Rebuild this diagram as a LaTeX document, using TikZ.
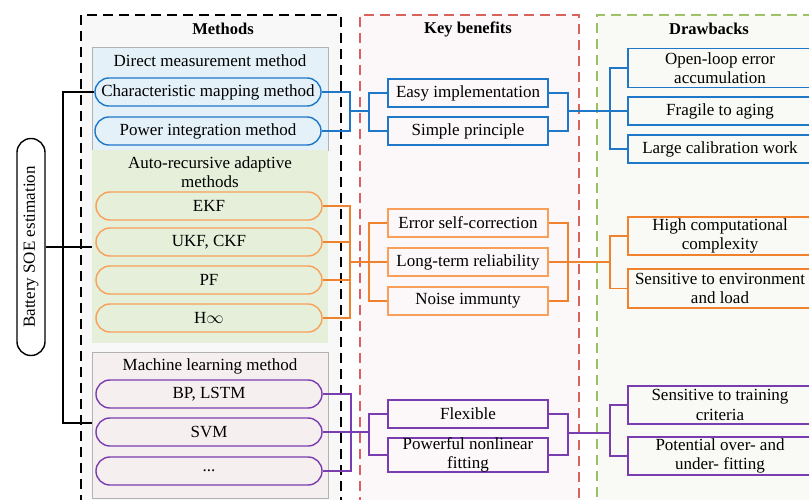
\documentclass[tikz,border=0pt]{standalone}
\usepackage{fontspec}
\setmainfont{Liberation Serif}
\definecolor{cblue}{HTML}{1F77C8}
\definecolor{corg}{HTML}{F8A05A}
\definecolor{corgd}{HTML}{F0822E}
\definecolor{cpur}{HTML}{7A3DB0}
\definecolor{cred}{HTML}{D9625C}
\definecolor{cgrn}{HTML}{9CC265}
\definecolor{fmeth}{HTML}{F8F8F8}
\definecolor{fkey}{HTML}{FCF8F9}
\definecolor{fdraw}{HTML}{F9FAF5}
\definecolor{fblue}{HTML}{E4F1F8}
\definecolor{fgreen}{HTML}{E5EFD9}
\definecolor{fpink}{HTML}{F6EFEF}
\begin{document}
\begin{tikzpicture}[x=1pt,y=-1pt,
  font=\fontsize{17}{19.5}\selectfont,
  every node/.style={inner sep=0pt},
  pill/.style={draw=#1, line width=1.4pt, rounded corners=13.9pt, minimum width=226pt, minimum height=28pt},
  kbox/.style={draw=#1, line width=1.4pt, minimum width=160pt, minimum height=28pt, align=center},
  dbox/.style={draw=#1, line width=1.4pt, minimum width=184pt, align=center},
  grp/.style={anchor=north west, minimum width=236pt},
  col/.style={anchor=north west, dash pattern=on 10pt off 6pt, line width=1.6pt},
  ttl/.style={font=\fontsize{16.5}{19}\selectfont\bfseries},
  conn/.style={line width=1.4pt}]
\useasboundingbox (0,0) rectangle (809,499);
\clip (0,0) rectangle (809,499);
\fill[white] (0,0) rectangle (809,499);
% columns
\node[col, draw=black, fill=fmeth, minimum width=260pt, minimum height=520pt] (methcol) at (80,14) {};
\node[col, draw=cred, fill=fkey, minimum width=219pt, minimum height=520pt] (keycol) at (359,14) {};
\node[col, draw=cgrn, fill=fdraw, minimum width=240pt, minimum height=520pt] (drawcol) at (596,14) {};
\node[ttl] (tmeth) at (223,29) {Methods};
\node[ttl] (tkey) at (468,29) {Key benefits};
\node[ttl] (tdraw) at (709,29) {Drawbacks};
% group boxes
\node[grp, draw=gray!60, fill=fblue, minimum height=103pt] (dmbox) at (92,47) {};
\node[grp, fill=fgreen, minimum height=193pt] (arbox) at (92,150) {};
\node[grp, draw=gray!60, fill=fpink, minimum height=146pt] (mlbox) at (92,352) {};
\node (tdm) at (210,61) {Direct measurement method};
\node[align=center] (tar) at (210,172) {Auto-recursive adaptive\\methods};
\node (tml) at (210,366) {Machine learning method};
% battery
\node[draw, line width=1.4pt, rounded corners=13.9pt, minimum width=28pt, minimum height=217pt] (bat) at (31,247) {\rotatebox{90}{Battery SOE estimation}};
% method pills
\node[pill=cblue] (cmm) at (208,92) {Characteristic mapping method};
\node[pill=cblue] (pim) at (208,131) {Power integration method};
\node[pill=corg] (ekf) at (209,206) {EKF};
\node[pill=corg] (ukf) at (209,242) {UKF, CKF};
\node[pill=corg] (pf) at (209,280) {PF};
\node[pill=corg] (hinf) at (209,318) {H$\infty$};
\node[pill=cpur] (bp) at (209,394) {BP, LSTM};
\node[pill=cpur] (svm) at (209,432) {SVM};
\node[pill=cpur] (dots) at (209,471) {...};
% key benefits
\node[kbox=cblue] (easy) at (468,93) {Easy implementation};
\node[kbox=cblue] (simple) at (468,131) {Simple principle};
\node[kbox=corg] (err) at (468,223) {Error self-correction};
\node[kbox=corg] (longt) at (468,262) {Long-term reliability};
\node[kbox=corg] (noise) at (468,301) {Noise immunty};
\node[kbox=cpur] (flex) at (468,414) {Flexible};
\node[kbox=cpur, minimum height=34pt, font=\fontsize{17}{18.5}\selectfont] (pow) at (468,455) {Powerful nonlinear\\fitting};
% drawbacks
\node[dbox=cblue, minimum height=39pt] (open) at (720,68) {Open-loop error\\accumulation};
\node[dbox=cblue, minimum height=28pt] (frag) at (720,111) {Fragile to aging};
\node[dbox=cblue, minimum height=28pt] (calib) at (720,149) {Large calibration work};
\node[dbox=corgd, minimum height=38pt] (highc) at (720,236) {High computational\\complexity};
\node[dbox=corgd, minimum height=39pt] (senv) at (720,288.5) {Sensitive to environment\\and load};
\node[dbox=cpur, minimum height=38pt] (strain) at (720,405) {Sensitive to training\\criteria};
\node[dbox=cpur, minimum height=38pt] (pot) at (720,456) {Potential over- and\\under- fitting};
% black connectors
\coordinate (kt) at (63,92);
\coordinate (kb) at (63,423);
\draw[conn] (cmm.west) -- (kt) -- (kb) -- (kb -| mlbox.west);
\draw[conn] (bat.east) -- (bat.east -| arbox.west);
% blue connectors
\coordinate (bj1) at (350,111);
\coordinate (bj2) at (369,111);
\coordinate (bj3) at (568,111);
\coordinate (bj4) at (610,111);
\draw[conn, cblue] (cmm.east) -| (bj1) |- (pim.east);
\draw[conn, cblue] (bj1) -- (bj2);
\draw[conn, cblue] (easy.west) -| (bj2) |- (simple.west);
\draw[conn, cblue] (easy.east) -| (bj3) |- (simple.east);
\draw[conn, cblue] (bj3) -- (frag.west);
\draw[conn, cblue] (open.west) -| (bj4) |- (calib.west);
% orange connectors
\coordinate (oj1) at (350,262);
\coordinate (oj2) at (369,262);
\coordinate (oj3) at (568,262);
\coordinate (oj4) at (610,262);
\draw[conn, corgd] (ekf.east) -| (oj1) |- (hinf.east);
\draw[conn, corgd] (ukf.east) -- (ukf.east -| oj1);
\draw[conn, corgd] (pf.east) -- (pf.east -| oj1);
\draw[conn, corgd] (oj1) -- (longt.west);
\draw[conn, corgd] (err.west) -| (oj2) |- (noise.west);
\draw[conn, corgd] (err.east) -| (oj3) |- (noise.east);
\draw[conn, corgd] (longt.east) -- (oj4);
\draw[conn, corgd] (highc.west) -| (oj4) |- (senv.west);
% purple connectors
\coordinate (pj1) at (351,432);
\coordinate (pj2) at (369,432);
\coordinate (pj3) at (568,433);
\coordinate (pj4) at (610,433);
\draw[conn, cpur] (bp.east) -| (pj1) |- (dots.east);
\draw[conn, cpur] (svm.east) -- (pj2);
\draw[conn, cpur] (flex.west) -| (pj2) |- (pow.west);
\draw[conn, cpur] (flex.east) -| (pj3) |- (pow.east);
\draw[conn, cpur] (pj3) -- (pj4);
\draw[conn, cpur] (strain.west) -| (pj4) |- (pot.west);
\end{tikzpicture}
\end{document}
